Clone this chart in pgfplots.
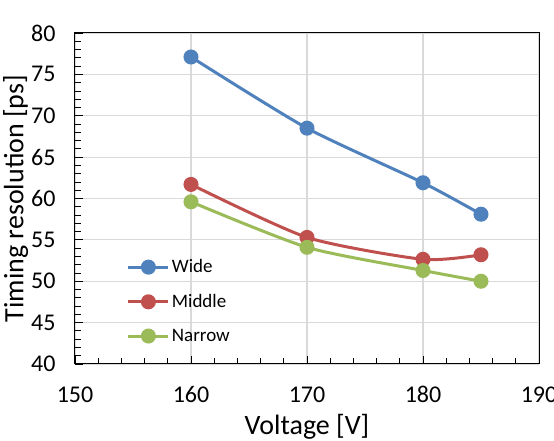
\documentclass[border=0pt]{standalone}
\usepackage{fontspec}
\setmainfont{Carlito}
\usepackage{pgfplots}
\pgfplotsset{compat=1.18}
\definecolor{cblue}{HTML}{4F81BD}
\definecolor{cred}{HTML}{C0504D}
\definecolor{cgreen}{HTML}{9BBB59}
\begin{document}
\begin{tikzpicture}
\begin{axis}[
  scale only axis,
  width=464pt, height=331pt,
  xmin=150, xmax=190, ymin=40, ymax=80,
  xtick={150,160,...,190}, ytick={40,45,...,80},
  minor x tick num=4, minor y tick num=4,
  tick pos=left,
  tick align=inside,
  major tick length=8pt, minor tick length=6pt,
  every tick/.style={black, line width=0.8pt},
  grid=major,
  major grid style={draw=black!15, line width=1.2pt},
  axis line style={black, line width=1pt},
  /pgf/number format/assume math mode=true,
  ticklabel style={font=\fontsize{24}{28}\selectfont},
  xticklabel style={yshift=-19pt},
  yticklabel style={xshift=-16pt},
  xlabel={Voltage [V]}, ylabel={Timing resolution [ps]},
  label style={font=\fontsize{28}{32}\selectfont},
  xlabel style={yshift=-4pt},
  ylabel style={yshift=-4pt},
  legend style={draw=none, fill=none, font=\fontsize{19}{21}\selectfont,
    at={(axis cs:154.2,53.1)}, anchor=north west, row sep=16pt,
    /tikz/every even column/.append style={column sep=2pt}},
  legend cell align=left,
  legend image code/.code={
    \draw[#1, line width=3pt] (0pt,0pt) -- (40pt,0pt);
    \fill[#1] (20pt,0pt) circle (6pt);
  },
]
\coordinate (bl) at (rel axis cs:0,0);
\addplot[cblue, line width=3pt, smooth, tension=0.4, mark=*, mark size=6pt, mark options={fill=cblue, draw=cblue}]
  coordinates {(160,77.1) (170,68.5) (180,61.9) (185,58.1)};
\addlegendentry{Wide}
\addplot[cred, line width=3pt, smooth, tension=0.4, mark=*, mark size=6pt, mark options={fill=cred, draw=cred}]
  coordinates {(160,61.7) (170,55.3) (180,52.65) (185,53.2)};
\addlegendentry{Middle}
\addplot[cgreen, line width=3pt, smooth, tension=0.4, mark=*, mark size=6pt, mark options={fill=cgreen, draw=cgreen}]
  coordinates {(160,59.6) (170,54.1) (180,51.3) (185,50.0)};
\addlegendentry{Narrow}
\end{axis}
\pgfresetboundingbox
\path[use as bounding box] ([shift={(-75pt,-77pt)}]bl) rectangle ([shift={(479pt,364pt)}]bl);
\end{tikzpicture}
\end{document}
